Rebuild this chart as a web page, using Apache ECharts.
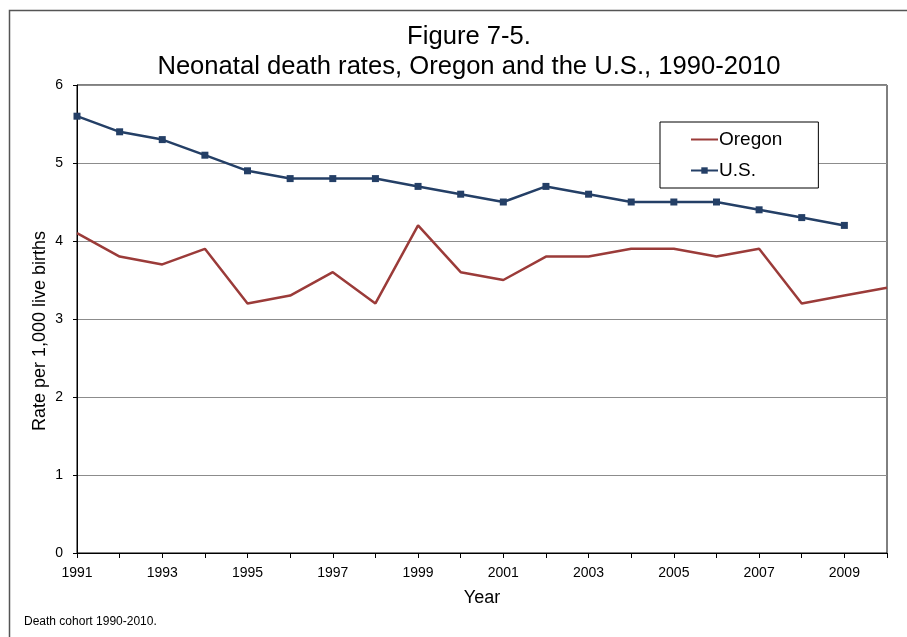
<!DOCTYPE html>
<html>
<head>
<meta charset="utf-8">
<script src="https://cdn.jsdelivr.net/npm/echarts@6/dist/echarts.min.js"></script>
<style>
  html, body { margin: 0; padding: 0; background: #fff; }
  #chart { width: 907px; height: 637px; }
</style>
</head>
<body>
<div id="chart"></div>
<script>
// years on the x axis
const years = ['1991', '1992', '1993', '1994', '1995', '1996', '1997', '1998', '1999', '2000',
  '2001', '2002', '2003', '2004', '2005', '2006', '2007', '2008', '2009', '2010'];

// neonatal deaths per 1,000 live births
const oregon = [4.1, 3.8, 3.7, 3.9, 3.2, 3.3, 3.6, 3.2, 4.2, 3.6,
  3.5, 3.8, 3.8, 3.9, 3.9, 3.8, 3.9, 3.2, 3.3, 3.4];
const us = [5.6, 5.4, 5.3, 5.1, 4.9, 4.8, 4.8, 4.8, 4.7, 4.6,
  4.5, 4.7, 4.6, 4.5, 4.5, 4.5, 4.4, 4.3, 4.2, null];

const font = 'Liberation Sans, Arial, sans-serif';

const chart = echarts.init(document.getElementById('chart'));

chart.setOption({
  animation: false,
  backgroundColor: '#fff',
  textStyle: { fontFamily: font },
  title: {
    text: 'Figure 7-5.\nNeonatal death rates, Oregon and the U.S., 1990-2010',
    left: 464,
    top: 17,
    textAlign: 'center',
    textStyle: {
      fontFamily: font,
      fontSize: 25.6,
      fontWeight: 'normal',
      color: '#000',
      lineHeight: 30
    }
  },
  legend: {
    orient: 'vertical',
    left: 660,
    top: 122,
    padding: [8, 36, 8, 30],
    itemWidth: 27,
    itemHeight: 8,
    itemGap: 12,
    backgroundColor: '#fff',
    borderColor: '#000',
    borderWidth: 1,
    data: [
      { name: 'Oregon', itemStyle: { opacity: 0 } },
      'U.S.'
    ],
    textStyle: { fontFamily: font, fontSize: 19, color: '#000', padding: [0, 0, 0, -4] }
  },
  grid: {
    left: 77,
    right: 20,
    top: 85,
    bottom: 84,
    show: true,
    borderColor: '#000',
    borderWidth: 1
  },
  xAxis: {
    type: 'category',
    data: years,
    boundaryGap: false,
    name: 'Year',
    nameLocation: 'middle',
    nameGap: 36,
    nameTextStyle: { fontFamily: font, fontSize: 18, color: '#000' },
    axisLine: { lineStyle: { color: '#000', width: 1 } },
    axisTick: { show: true, inside: false, length: 5, interval: 0, lineStyle: { color: '#000' } },
    axisLabel: { interval: 1, color: '#000', fontSize: 14, margin: 13, fontFamily: font },
    splitLine: { show: false }
  },
  yAxis: {
    type: 'value',
    min: 0,
    max: 6,
    interval: 1,
    axisLine: { show: true, lineStyle: { color: '#000', width: 1 } },
    axisTick: { show: true, length: 4, lineStyle: { color: '#000' } },
    axisLabel: { color: '#000', fontSize: 14, margin: 14, fontFamily: font },
    splitLine: { lineStyle: { color: '#8c8c8c', width: 1 } }
  },
  series: [
    {
      name: 'Oregon',
      type: 'line',
      data: oregon,
      symbol: 'none',
      lineStyle: { color: '#9b3b39', width: 2.5 },
      itemStyle: { color: '#9b3b39' },
      z: 3
    },
    {
      name: 'U.S.',
      type: 'line',
      data: us,
      symbol: 'rect',
      symbolSize: 7,
      showAllSymbol: true,
      lineStyle: { color: '#243f66', width: 2.5 },
      itemStyle: { color: '#243f66' },
      z: 4
    }
  ],
  graphic: [
    {
      type: 'polyline',
      shape: { points: [[9.5, 637], [9.5, 10.5], [907, 10.5]] },
      style: { stroke: '#555', lineWidth: 1.5, fill: null },
      silent: true
    },
    {
      type: 'text',
      x: 40,
      y: 331,
      rotation: Math.PI / 2,
      style: {
        text: 'Rate per 1,000 live births',
        fontFamily: font,
        fontSize: 18,
        fill: '#000',
        align: 'center',
        verticalAlign: 'middle'
      },
      silent: true
    },
    {
      type: 'text',
      left: 24,
      top: 616,
      style: { text: 'Death cohort 1990-2010.', fontFamily: font, fontSize: 12, fill: '#000' }
    }
  ]
});
</script>
</body>
</html>
